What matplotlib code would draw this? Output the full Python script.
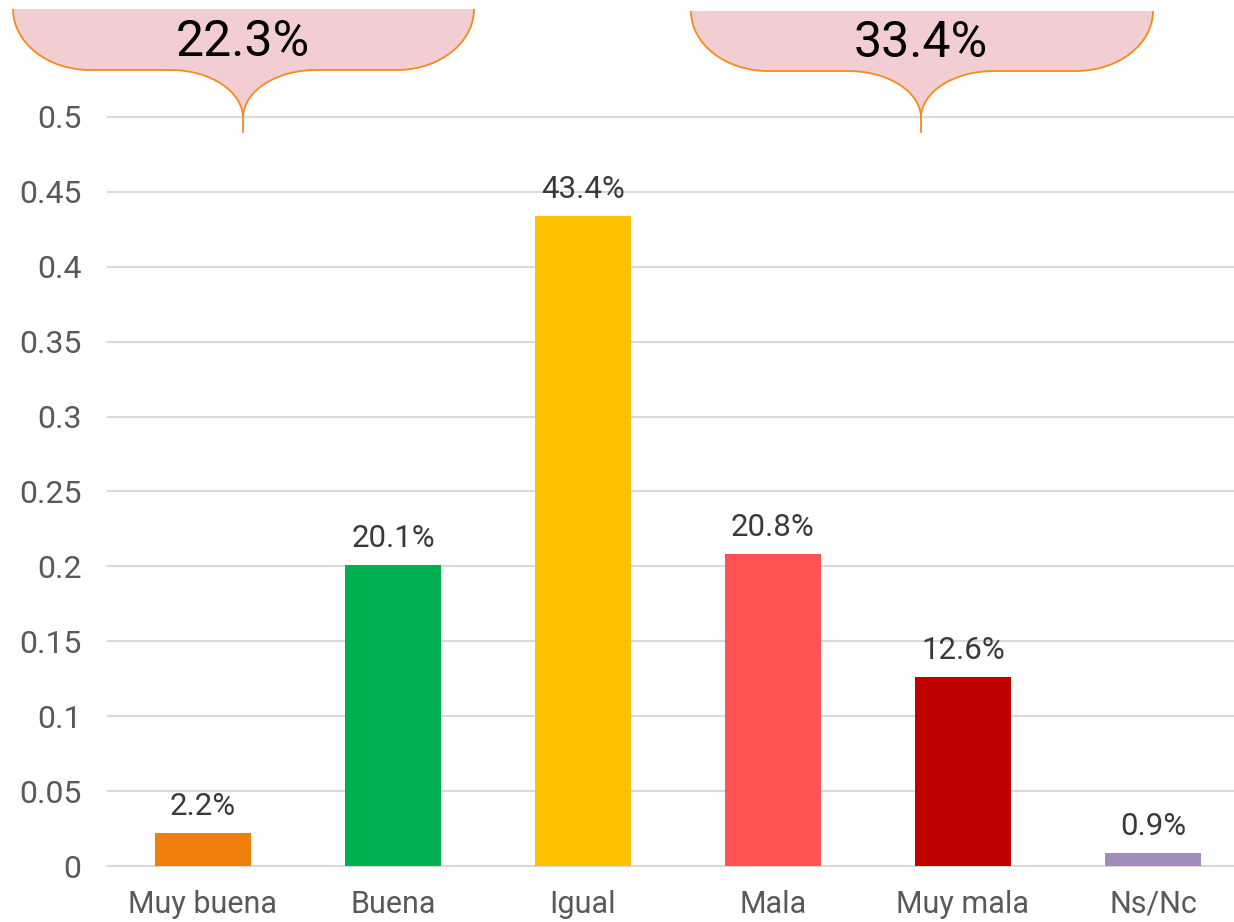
import matplotlib.pyplot as plt
from matplotlib.path import Path
from matplotlib.patches import PathPatch

categories = ['Muy buena', 'Buena', 'Igual', 'Mala', 'Muy mala', 'Ns/Nc']
values = [0.022, 0.201, 0.434, 0.208, 0.126, 0.009]
colors = ['#EF7F0B', '#00B050', '#FFC000', '#FF5252', '#C00000', '#A38BBA']
yticks = [0, 0.05, 0.1, 0.15, 0.2, 0.25, 0.3, 0.35, 0.4, 0.45, 0.5]
ytick_labels = ['0', '0.05', '0.1', '0.15', '0.2', '0.25', '0.3', '0.35', '0.4', '0.45', '0.5']
brace_labels = ['22.3%', '33.4%']

plt.rcParams['font.family'] = ['Roboto', 'DejaVu Sans']

W, H = 1234, 922
fig = plt.figure(figsize=(W / 100, H / 100), dpi=100)
ax = fig.add_axes([108 / W, 1 - 866 / H, 1 - 108 / W, (866 - 117) / H])

x = list(range(len(categories)))
bars = ax.bar(x, values, width=0.505, color=colors, zorder=2)
for b, v in zip(bars, values):
    ax.text(b.get_x() + b.get_width() / 2, v + 0.008, f'{v * 100:.1f}%',
            ha='center', va='bottom', fontsize=22.5, color='#3A3A3A')

ax.set_xlim(-0.5, -0.5 + (W - 108) / 190)
ax.set_ylim(0, 0.5)
ax.set_yticks(yticks)
ax.set_yticklabels(ytick_labels)
ax.set_xticks(x)
ax.set_xticklabels(categories)
ax.tick_params(axis='y', length=0, pad=19, labelsize=23, labelcolor='#595959')
ax.tick_params(axis='x', length=0, pad=17, labelsize=22, labelcolor='#595959')
ax.grid(axis='y', color='#D9D9D9', linewidth=1.5, clip_on=False)
ax.set_axisbelow(True)
for s in ax.spines.values():
    s.set_visible(False)

# overlay in pixel coordinates for the braces
ov = fig.add_axes([0, 0, 1, 1], zorder=5)
ov.set_xlim(0, W)
ov.set_ylim(H, 0)
ov.axis('off')
ov.patch.set_visible(False)

k = 0.5523


def brace(x0, x1, cx, ytop, ymid, ytip, ystem, label):
    r1 = 77
    r2 = 73
    pts = [
        (x0, ytop),
        (x0, ytop + k * (ymid - ytop)), (x0 + r1 - k * r1, ymid), (x0 + r1, ymid),
        (cx - r2, ymid),
        (cx - r2 + k * r2, ymid), (cx, ytip - k * (ytip - ymid)), (cx, ytip),
        (cx, ytip - k * (ytip - ymid)), (cx + r2 - k * r2, ymid), (cx + r2, ymid),
        (x1 - r1, ymid),
        (x1 - r1 + k * r1, ymid), (x1, ytop + k * (ymid - ytop)), (x1, ytop),
    ]
    codes = [Path.MOVETO] + [Path.CURVE4] * 3 + [Path.LINETO] + [Path.CURVE4] * 6 \
        + [Path.LINETO] + [Path.CURVE4] * 3
    fill = Path(pts + [(x0, ytop)], codes + [Path.CLOSEPOLY])
    ov.add_patch(PathPatch(fill, facecolor='#F2CED3', edgecolor='none'))
    ov.add_patch(PathPatch(Path(pts, codes), facecolor='none',
                           edgecolor='#F08C1E', linewidth=1.3))
    ov.plot([cx, cx], [ytip, ystem], color='#F08C1E', linewidth=1.3)
    ov.text(cx, (ytop + ymid) / 2 + 2, label, ha='center', va='center',
            fontsize=36, color='black')


brace(13, 474, 243, 9, 70, 118, 132, brace_labels[0])
brace(691, 1153, 921, 11, 71, 118, 132, brace_labels[1])

fig.savefig('out.png', dpi=100)
